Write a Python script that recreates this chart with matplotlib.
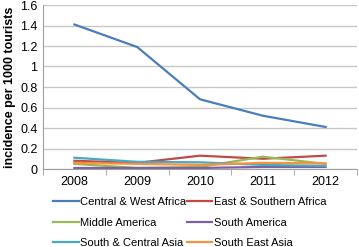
import matplotlib
matplotlib.use("Agg")
import matplotlib.pyplot as plt
from matplotlib.lines import Line2D

years = ["2008", "2009", "2010", "2011", "2012"]
central_west_africa = [1.41, 1.19, 0.68, 0.52, 0.41]
east_southern_africa = [0.08, 0.06, 0.13, 0.10, 0.13]
middle_america = [0.05, 0.01, 0.02, 0.12, 0.05]
south_america = [0.01, 0.01, 0.01, 0.02, 0.02]
south_central_asia = [0.11, 0.07, 0.065, 0.04, 0.03]
south_east_asia = [0.06, 0.05, 0.04, 0.06, 0.055]

series = [
    ("Central & West Africa", central_west_africa, "#4A7EBB"),
    ("East & Southern Africa", east_southern_africa, "#BE4B48"),
    ("Middle America", middle_america, "#98B954"),
    ("South America", south_america, "#7D60A0"),
    ("South & Central Asia", south_central_asia, "#46AAC5"),
    ("South East Asia", south_east_asia, "#F69240"),
]

plt.rcParams['font.family'] = ['Liberation Sans', 'DejaVu Sans']

fig = plt.figure(figsize=(3.59, 2.47), dpi=100)
ax = fig.add_axes([43/359, 1 - 169/247, 314/359, 164/247])

x = list(range(len(years)))
for name, vals, col in series:
    ax.plot(x, vals, color=col, lw=1.6, label=name)

ax.set_xlim(-0.5, len(years) - 0.5)
ax.set_ylim(0, 1.6)
ax.set_yticks([0, 0.2, 0.4, 0.6, 0.8, 1.0, 1.2, 1.4, 1.6])
ax.set_yticklabels(["0", "0.2", "0.4", "0.6", "0.8", "1", "1.2", "1.4", "1.6"])
ax.set_xticks(x)
ax.set_xticklabels(years)
ax.set_xticks([i - 0.5 for i in range(len(years) + 1)], minor=True)
ax.tick_params(axis='x', which='major', length=0, labelsize=9, pad=5)
ax.tick_params(axis='x', which='minor', length=4, color="#A0A0A0")
ax.tick_params(axis='y', length=0, labelsize=9, pad=4)
ax.yaxis.grid(True, color="#C8C8C8", lw=1)
ax.set_axisbelow(True)
for s in ["top", "right"]:
    ax.spines[s].set_visible(False)
ax.spines["left"].set_color("#A0A0A0")
ax.spines["bottom"].set_color("#A0A0A0")
ax.set_ylabel("incidence per 1000 tourists", fontsize=9, fontweight="bold", labelpad=3)

order = [0, 2, 4, 1, 3, 5]
handles = [Line2D([0], [0], color=series[i][2], lw=1.6) for i in order]
labels = [series[i][0] for i in order]
fig.legend(handles, labels, loc="upper left", bbox_to_anchor=(53/359, 1 - 197/247),
           ncol=2, frameon=False, fontsize=8, handlelength=2.3, handletextpad=0.1,
           columnspacing=0.1, labelspacing=0.95, borderaxespad=0, borderpad=0)

fig.savefig("out.png", dpi=100)
